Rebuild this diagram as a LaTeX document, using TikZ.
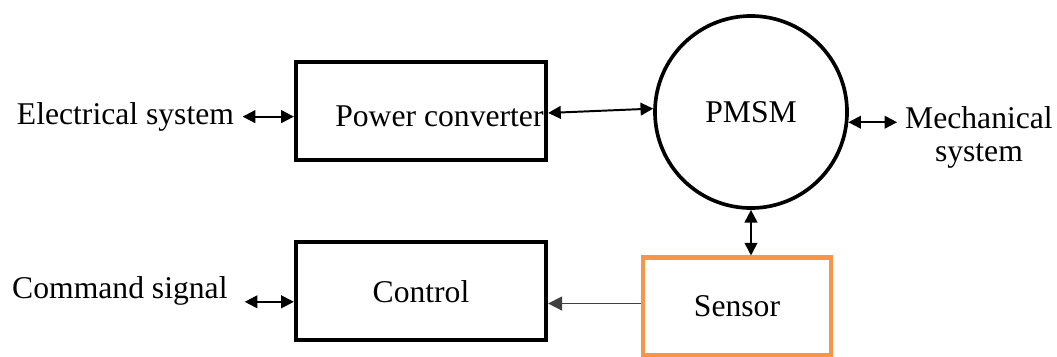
\documentclass[tikz,border=0pt]{standalone}
\usepackage{fontspec}
\setmainfont{Liberation Serif}
\usetikzlibrary{positioning,arrows.meta}
\definecolor{sensororange}{RGB}{247,150,70}
\definecolor{signalgray}{RGB}{64,64,64}

\begin{document}
\begin{tikzpicture}[x=0.025cm, y=-0.025cm,
    font=\fontsize{22.5}{23.4}\selectfont,
    block/.style={draw, line width=3pt, minimum width=6.25cm, minimum height=2.45cm},
    txt/.style={inner sep=2pt},
    link/.style={{Triangle[length=9pt,width=9pt]}-{Triangle[length=9pt,width=9pt]}, line width=1.4pt}]
    \useasboundingbox (0,0) rectangle (1057,356);
    % Define nodes
    \node[block] (pc) at (421,111) {};
    \node[txt] (pctext) at ([xshift=13.1pt, yshift=-3.5pt]pc.center) {Power converter};
    \node[block, below=1.95cm of pc] (ctrl) {Control};
    \node[circle, draw, line width=2.6pt, minimum size=4.8cm] (pmsm) at (751,112) {PMSM};
    \node[draw=sensororange, line width=3.2pt, minimum width=4.7cm, minimum height=2.43cm,
        below=1.14cm of pmsm, xshift=-0.35cm] (sensor) {Sensor};
    \node[txt, left=1.42cm of pc, yshift=-4pt] (elec) {Electrical system};
    \node[txt, left=1.58cm of ctrl] (cmd) {Command signal};
    \node[txt, align=center, right=1.33cm of pmsm, yshift=-18.4pt] (mech) {Mechanical\\system};
    % Connect nodes
    \draw[link] ([xshift=4pt]elec.east) -- (elec.east -| pc.west);
    \draw[link] ([xshift=10pt, yshift=-7.5pt]cmd.east) -- ([yshift=-7.5pt]cmd.east -| ctrl.west);
    \draw[link] ([yshift=-1.4pt]pc.east) -- (pmsm.178);
    \draw[link] (pmsm.-6) -- ([xshift=-3.5pt]pmsm.-6 -| mech.west);
    \draw[link] (pmsm.south) -- (pmsm.south |- sensor.north);
    \draw[-{Triangle[length=10pt,width=10pt]}, signalgray, line width=1.2pt]
        ([yshift=2pt]sensor.west) -- ([yshift=2pt]sensor.west -| ctrl.east);
\end{tikzpicture}
\end{document}
